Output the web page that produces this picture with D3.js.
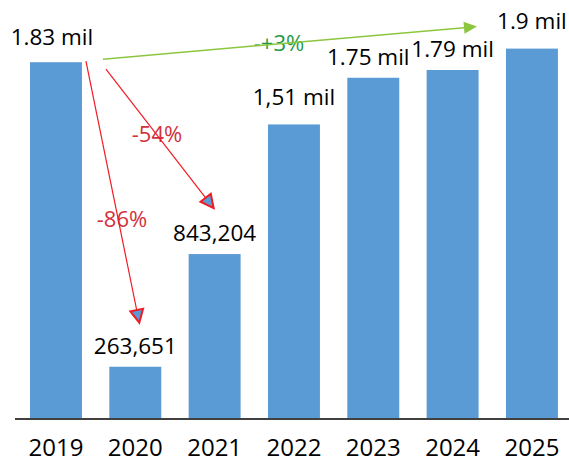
<!DOCTYPE html>
<html>
<head>
<meta charset="utf-8">
<script src="https://cdn.jsdelivr.net/npm/d3@7/dist/d3.min.js"></script>
<style>
  html, body { margin: 0; padding: 0; background: #ffffff; }
  svg { display: block; font-family: "Open Sans", "Noto Sans", sans-serif; }
</style>
</head>
<body>
<svg id="chart" width="569" height="462"></svg>
<script>
// Yearly totals
const years = ["2019", "2020", "2021", "2022", "2023", "2024", "2025"];
const totals = [1830000, 263651, 843204, 1510000, 1750000, 1790000, 1900000];
const valueLabels = ["1.83 mil", "263,651", "843,204", "1,51 mil", "1.75 mil", "1.79 mil", "1.9 mil"];

// Change arrows drawn from the 2019 bar
const arrowFrom = ["2019", "2019", "2019"];
const arrowTo = ["2020", "2021", "2025"];
const arrowText = ["-86%", "-54%", "-+3%"];
const arrowKind = ["down", "down", "up"];

const W = 569, H = 462;
const svg = d3.select("#chart");

const x = d3.scaleBand()
  .domain(years)
  .range([16.3, 571.6])
  .paddingInner(0.345)
  .paddingOuter(0.1725);

const y = d3.scaleLinear()
  .domain([0, 2150000])
  .range([418, 0]);

const BAR = "#5b9bd5";

// Bars
svg.append("g")
  .selectAll("rect")
  .data(years)
  .join("rect")
  .attr("x", d => x(d))
  .attr("y", (d, i) => y(totals[i]))
  .attr("width", x.bandwidth())
  .attr("height", (d, i) => y(0) - y(totals[i]))
  .attr("fill", BAR);

// Baseline
svg.append("line")
  .attr("x1", 15).attr("x2", W)
  .attr("y1", y(0) + 1).attr("y2", y(0) + 1)
  .attr("stroke", "#000").attr("stroke-width", 1.5);

// Category axis labels
const xAxis = d3.axisBottom(x).tickSize(0).tickPadding(0);
const gx = svg.append("g")
  .attr("transform", `translate(0,${y(0)})`)
  .call(xAxis);
gx.select(".domain").remove();
gx.selectAll("text")
  .attr("dy", null)
  .attr("y", 38)
  .attr("font-size", 24)
  .attr("font-family", "'Open Sans', sans-serif")
  .attr("fill", "#000");

// Value labels above bars
const labelLift = { "2019": 17, "2022": 19, "2025": 20 };
const labelShift = { "2019": -4, "2023": -5 };
svg.append("g")
  .selectAll("text")
  .data(years)
  .join("text")
  .attr("x", d => x(d) + x.bandwidth() / 2 + (labelShift[d] || 0))
  .attr("y", (d, i) => y(totals[i]) - (labelLift[d] || 13))
  .attr("text-anchor", "middle")
  .attr("font-size", 22.5)
  .attr("fill", "#000")
  .text((d, i) => valueLabels[i]);

// Arrow geometry relative to the bars they connect
function barTop(yr) { return y(totals[years.indexOf(yr)]); }
const arrowLayout = [
  { // to 2020
    start: () => [x("2019") + x.bandwidth() + 4, barTop("2019") - 1],
    end: () => [x("2020") + x.bandwidth() / 2 + 4, barTop("2020") - 44],
    label: [122, 227]
  },
  { // to 2021
    start: () => [x("2019") + x.bandwidth() + 24, barTop("2019") + 7],
    end: () => [x("2021") + x.bandwidth() / 2 - 1, barTop("2021") - 46],
    label: [157, 142]
  },
  { // to 2025
    start: () => [x("2019") + x.bandwidth() + 21, barTop("2019") - 3],
    end: () => [x("2025") - 29, barTop("2025") - 22],
    label: [279, 51]
  }
];

const styles = {
  down: { line: "#f01c24", text: "#d2323c", headFill: BAR, headStroke: "#f01c24", len: 13, half: 6.5 },
  up: { line: "#8cc63f", text: "#1f9a48", headFill: "#8cc63f", headStroke: "none", len: 13, half: 6 }
};

const ga = svg.append("g");
arrowText.forEach((t, i) => {
  const st = styles[arrowKind[i]];
  const L = arrowLayout[i];
  const [x1, y1] = L.start();
  const [x2, y2] = L.end();
  const dx = x2 - x1, dy = y2 - y1;
  const n = Math.hypot(dx, dy);
  const ux = dx / n, uy = dy / n;
  const bx = x2 - ux * st.len, by = y2 - uy * st.len;
  const px = -uy, py = ux;

  ga.append("text")
    .attr("x", L.label[0])
    .attr("y", L.label[1])
    .attr("text-anchor", "middle")
    .attr("font-size", 22)
    .attr("fill", st.text)
    .text(t);

  ga.append("line")
    .attr("x1", x1).attr("y1", y1)
    .attr("x2", bx).attr("y2", by)
    .attr("stroke", st.line)
    .attr("stroke-width", arrowKind[i] === "up" ? 1.5 : 1.2);

  ga.append("path")
    .attr("d", d3.line()([
      [x2, y2],
      [bx + px * st.half, by + py * st.half],
      [bx - px * st.half, by - py * st.half]
    ]) + "Z")
    .attr("fill", st.headFill)
    .attr("stroke", st.headStroke)
    .attr("stroke-width", 2)
    .attr("stroke-linejoin", "miter");
});
</script>
</body>
</html>
